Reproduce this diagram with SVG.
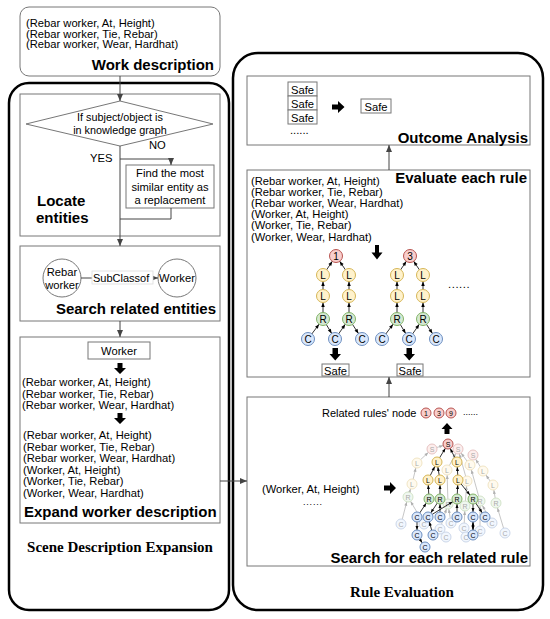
<svg xmlns="http://www.w3.org/2000/svg" width="550" height="619" viewBox="0 0 550 619">
<style>
.t{font-family:"Liberation Sans",Arial,sans-serif;font-size:11.2px;fill:#000}
.c{text-anchor:middle}
.b{font-family:"Liberation Sans",Arial,sans-serif;font-size:15px;font-weight:bold;fill:#000}
.e{text-anchor:end}
.tm{font-family:"Liberation Serif","Times New Roman",serif;font-size:15px;font-weight:bold;fill:#000;text-anchor:middle}
.box{fill:#fff;stroke:#777;stroke-width:1}
.outer{fill:none;stroke:#000;stroke-width:2.5}
.con{fill:none;stroke:#444;stroke-width:1}
.blk{fill:#000}
.te{stroke:#000;stroke-width:0.8;fill:none}
.tf{stroke:#b8b8b8;stroke-width:0.8;fill:none}
.nr{fill:#f8cecc;stroke:#b85450}
.ny{fill:#fff2cc;stroke:#d6b656}
.ng{fill:#d5e8d4;stroke:#82b366}
.nb{fill:#dae8fc;stroke:#6c8ebf}
.fr{fill:#fdeeed;stroke:#e6c3c2}
.fy{fill:#fffaee;stroke:#f1e5c4}
.fg{fill:#f0f7f0;stroke:#d3e4c9}
.fb{fill:#f2f7fe;stroke:#ccd7e9}
.nl{font-family:"Liberation Sans",Arial,sans-serif;font-size:10px;text-anchor:middle;fill:#000}
.sl{font-family:"Liberation Sans",Arial,sans-serif;font-size:7px;text-anchor:middle;fill:#000}
.fl{font-family:"Liberation Sans",Arial,sans-serif;font-size:7px;text-anchor:middle;fill:#aaa}
</style>
<defs>
<marker id="ma" markerUnits="userSpaceOnUse" markerWidth="8" markerHeight="7" refX="7" refY="3" orient="auto" overflow="visible"><path d="M0,0 L7,3 L0,6 Z" fill="#444"/></marker>
<marker id="ta" markerUnits="userSpaceOnUse" markerWidth="5" markerHeight="4" refX="11" refY="1.75" orient="auto" overflow="visible"><path d="M0,0 L4.5,1.75 L0,3.5 Z" fill="#000"/></marker>
<marker id="tb" markerUnits="userSpaceOnUse" markerWidth="5" markerHeight="4" refX="9" refY="1.5" orient="auto" overflow="visible"><path d="M0,0 L4,1.5 L0,3 Z" fill="#000"/></marker>
<marker id="tg" markerUnits="userSpaceOnUse" markerWidth="5" markerHeight="4" refX="9" refY="1.5" orient="auto" overflow="visible"><path d="M0,0 L4,1.5 L0,3 Z" fill="#b0b0b0"/></marker>
</defs>

<g id="panel-scene">
<rect class="outer" x="9" y="83" width="220" height="527" rx="20"/>
<text class="tm" x="120" y="552">Scene Description Expansion</text>
</g>
<g id="panel-rule">
<rect class="outer" x="233" y="53" width="310" height="557" rx="25"/>
<text class="tm" x="402" y="597">Rule Evaluation</text>
</g>

<g id="work-description">
<rect class="box" x="20" y="7" width="200" height="69" rx="9"/>
<text class="t" x="26" y="27">(Rebar worker, At, Height)</text>
<text class="t" x="26" y="37.5">(Rebar worker, Tie, Rebar)</text>
<text class="t" x="26" y="48">(Rebar worker, Wear, Hardhat)</text>
<text class="b e" x="214" y="70">Work description</text>
</g>

<g id="locate-entities">
<rect class="box" x="20" y="94" width="200" height="142"/>
<text class="b" x="37" y="206">Locate</text>
<text class="b" x="36" y="223">entities</text>
</g>
<g id="decision">
<polygon points="120,101 213,124 120,146 26,124" fill="#fff" stroke="#777"/>
<text class="t c" x="120" y="120.5" style="font-size:10.8px">If subject/object is</text>
<text class="t c" x="120" y="134" style="font-size:10.8px">in knowledge graph</text>
</g>
<g id="find-similar">
<rect class="box" x="126" y="165" width="88" height="43"/>
<text class="t c" x="170" y="177">Find the most</text>
<text class="t c" x="170" y="190.5">similar entity as</text>
<text class="t c" x="170" y="204">a replacement</text>
</g>

<g id="search-related">
<rect class="box" x="20" y="246" width="200" height="75"/>
<text class="b e" x="216" y="314">Search related entities</text>
</g>
<g id="node-rebar-worker">
<circle cx="62" cy="278" r="19" fill="#fff" stroke="#777"/>
<text class="t c" x="62" y="275.5">Rebar</text>
<text class="t c" x="62" y="289">worker</text>
</g>
<g id="node-worker">
<circle cx="177" cy="278" r="19" fill="#fff" stroke="#777"/>
<text class="t c" x="177" y="282">Worker</text>
</g>

<g id="expand-worker">
<rect class="box" x="20" y="337" width="200" height="186"/>
<rect class="box" x="88" y="342" width="62" height="17"/>
<text class="t c" x="119" y="355">Worker</text>
<path class="blk" d="M117.5,363 h5 v5 h3.5 l-6,6 l-6,-6 h3.5 z"/>
<text class="t" x="22" y="386">(Rebar worker, At, Height)</text>
<text class="t" x="22" y="397.5">(Rebar worker, Tie, Rebar)</text>
<text class="t" x="22" y="409">(Rebar worker, Wear, Hardhat)</text>
<path class="blk" d="M117.5,413 h5 v5 h3.5 l-6,6 l-6,-6 h3.5 z"/>
<text class="t" x="23" y="439">(Rebar worker, At, Height)</text>
<text class="t" x="23" y="450.5">(Rebar worker, Tie, Rebar)</text>
<text class="t" x="23" y="462">(Rebar worker, Wear, Hardhat)</text>
<text class="t" x="23" y="473.5">(Worker, At, Height)</text>
<text class="t" x="23" y="485">(Worker, Tie, Rebar)</text>
<text class="t" x="23" y="496.5">(Worker, Wear, Hardhat)</text>
<text class="b" x="24" y="517">Expand worker description</text>
</g>

<g id="outcome-analysis">
<rect class="box" x="247" y="76" width="283" height="69"/>
<rect class="box" x="288" y="82" width="29" height="14"/>
<rect class="box" x="288" y="96" width="29" height="14"/>
<rect class="box" x="288" y="110" width="29" height="14"/>
<text class="t c" x="302.5" y="93.5">Safe</text>
<text class="t c" x="302.5" y="107.5">Safe</text>
<text class="t c" x="302.5" y="121.5">Safe</text>
<text class="t" x="290" y="134">......</text>
<path class="blk" d="M332,104.5 h6 v-3.5 l6.5,6 l-6.5,6 v-3.5 h-6 z"/>
<rect class="box" x="361" y="99" width="30" height="14"/>
<text class="t c" x="376" y="110.5">Safe</text>
<text class="b e" x="528" y="142.5">Outcome Analysis</text>
</g>

<g id="evaluate-rule">
<rect class="box" x="247" y="170" width="283" height="207"/>
<text class="b e" x="527" y="183">Evaluate each rule</text>
<text class="t" x="251" y="184.5">(Rebar worker, At, Height)</text>
<text class="t" x="251" y="195.7">(Rebar worker, Tie, Rebar)</text>
<text class="t" x="251" y="206.9">(Rebar worker, Wear, Hardhat)</text>
<text class="t" x="251" y="218.1">(Worker, At, Height)</text>
<text class="t" x="251" y="229.3">(Worker, Tie, Rebar)</text>
<text class="t" x="251" y="240.5">(Worker, Wear, Hardhat)</text>
<path class="blk" d="M375,245 h4 v7.5 h3.5 l-5.5,7 l-5.5,-7 h3.5 z"/>
<text class="t" x="448" y="288" style="letter-spacing:0.6px">......</text>
<path class="blk" d="M332.5,348 h5.5 v6 h3 l-5.75,6.5 l-5.75,-6.5 h3 z"/>
<path class="blk" d="M406.5,348 h5.5 v6 h3 l-5.75,6.5 l-5.75,-6.5 h3 z"/>
<rect class="box" x="322" y="364" width="27" height="12"/>
<text class="t c" x="335.5" y="374.5">Safe</text>
<rect class="box" x="397" y="364" width="26" height="12"/>
<text class="t c" x="410" y="374.5">Safe</text>
</g>

<g id="rule-tree-1">
<g class="te" marker-end="url(#ta)">
<line x1="323" y1="275" x2="336" y2="256"/>
<line x1="349" y1="275" x2="336" y2="256"/>
<line x1="323" y1="296" x2="323" y2="275"/>
<line x1="349" y1="296" x2="349" y2="275"/>
<line x1="323" y1="319" x2="323" y2="296"/>
<line x1="349" y1="319" x2="349" y2="296"/>
<line x1="308" y1="339" x2="323" y2="319"/>
<line x1="323" y1="319" x2="335" y2="339"/>
<line x1="335" y1="339" x2="349" y2="319"/>
<line x1="349" y1="319" x2="362" y2="339"/>
</g>
<circle class="nr" cx="336" cy="256" r="6.5"/><text class="nl" x="336" y="259.5">1</text>
<circle class="ny" cx="323" cy="275" r="6.5"/><text class="nl" x="323" y="278.5">L</text>
<circle class="ny" cx="349" cy="275" r="6.5"/><text class="nl" x="349" y="278.5">L</text>
<circle class="ny" cx="323" cy="296" r="6.5"/><text class="nl" x="323" y="299.5">L</text>
<circle class="ny" cx="349" cy="296" r="6.5"/><text class="nl" x="349" y="299.5">L</text>
<circle class="ng" cx="323" cy="319" r="6.5"/><text class="nl" x="323" y="322.5">R</text>
<circle class="ng" cx="349" cy="319" r="6.5"/><text class="nl" x="349" y="322.5">R</text>
<circle class="nb" cx="308" cy="339" r="6.5"/><text class="nl" x="308" y="342.5">C</text>
<circle class="nb" cx="335" cy="339" r="6.5"/><text class="nl" x="335" y="342.5">C</text>
<circle class="nb" cx="362" cy="339" r="6.5"/><text class="nl" x="362" y="342.5">C</text>
</g>

<g id="rule-tree-3" transform="translate(74,0)">
<g class="te" marker-end="url(#ta)">
<line x1="323" y1="275" x2="336" y2="256"/>
<line x1="349" y1="275" x2="336" y2="256"/>
<line x1="323" y1="296" x2="323" y2="275"/>
<line x1="349" y1="296" x2="349" y2="275"/>
<line x1="323" y1="319" x2="323" y2="296"/>
<line x1="349" y1="319" x2="349" y2="296"/>
<line x1="308" y1="339" x2="323" y2="319"/>
<line x1="323" y1="319" x2="335" y2="339"/>
<line x1="335" y1="339" x2="349" y2="319"/>
<line x1="349" y1="319" x2="362" y2="339"/>
</g>
<circle class="nr" cx="336" cy="256" r="6.5"/><text class="nl" x="336" y="259.5">3</text>
<circle class="ny" cx="323" cy="275" r="6.5"/><text class="nl" x="323" y="278.5">L</text>
<circle class="ny" cx="349" cy="275" r="6.5"/><text class="nl" x="349" y="278.5">L</text>
<circle class="ny" cx="323" cy="296" r="6.5"/><text class="nl" x="323" y="299.5">L</text>
<circle class="ny" cx="349" cy="296" r="6.5"/><text class="nl" x="349" y="299.5">L</text>
<circle class="ng" cx="323" cy="319" r="6.5"/><text class="nl" x="323" y="322.5">R</text>
<circle class="ng" cx="349" cy="319" r="6.5"/><text class="nl" x="349" y="322.5">R</text>
<circle class="nb" cx="308" cy="339" r="6.5"/><text class="nl" x="308" y="342.5">C</text>
<circle class="nb" cx="335" cy="339" r="6.5"/><text class="nl" x="335" y="342.5">C</text>
<circle class="nb" cx="362" cy="339" r="6.5"/><text class="nl" x="362" y="342.5">C</text>
</g>

<g id="search-rule">
<rect class="box" x="247" y="397" width="283" height="169"/>
<text class="t" x="322" y="417" style="font-size:11px">Related rules' node</text>
<circle class="nr" cx="426" cy="413" r="5"/><text class="sl" x="426" y="415.5">1</text>
<circle class="nr" cx="439" cy="413" r="5"/><text class="sl" x="439" y="415.5">3</text>
<circle class="nr" cx="451" cy="413" r="5"/><text class="sl" x="451" y="415.5">9</text>
<text class="t" x="463" y="415" style="font-size:9px">......</text>
<path class="blk" d="M447,423 l5.5,6 h-3 v5 h-5 v-5 h-3 z"/>
<text class="t" x="262" y="493">(Worker, At, Height)</text>
<text class="t" x="303" y="505" style="font-size:9px;letter-spacing:0.8px">......</text>
<path class="blk" d="M384,485.5 h6 v-3.5 l6,6 l-6,6 v-3.5 h-6 z"/>
<text class="b e" x="528" y="563">Search for each related rule</text>
</g>

<g id="knowledge-graph">
<g class="tf" marker-end="url(#tg)">
<line x1="417" y1="463" x2="432" y2="449"/>
<line x1="412" y1="484" x2="417" y2="463"/>
<line x1="408" y1="497" x2="412" y2="484"/>
<line x1="401" y1="524" x2="408" y2="497"/>
<line x1="470" y1="465" x2="458" y2="449"/>
<line x1="483" y1="471" x2="473" y2="455"/>
<line x1="493" y1="485" x2="483" y2="471"/>
<line x1="496" y1="503" x2="493" y2="485"/>
<line x1="505" y1="533" x2="496" y2="503"/>
<line x1="480" y1="501" x2="470" y2="465"/>
<line x1="492" y1="523" x2="480" y2="501"/>
<line x1="447" y1="470" x2="458" y2="449"/>
<line x1="467" y1="481" x2="458" y2="449"/>
<line x1="465" y1="506" x2="467" y2="481"/>
<line x1="464" y1="528" x2="465" y2="506"/>
<line x1="448" y1="504" x2="447" y2="470"/>
<line x1="451" y1="523" x2="448" y2="504"/>
<line x1="440" y1="529" x2="448" y2="504"/>
<line x1="424" y1="524" x2="408" y2="497"/>
<line x1="466" y1="536" x2="464" y2="528"/>
<line x1="446" y1="537" x2="440" y2="529"/>
<line x1="480" y1="531" x2="480" y2="501"/>
<line x1="432" y1="449" x2="448" y2="444"/>
</g>
<g id="faded-nodes">
<circle class="fr" cx="432" cy="449" r="5"/><text class="fl" x="432" y="451.5">S</text>
<circle class="fr" cx="458" cy="449" r="5"/><text class="fl" x="458" y="451.5">S</text>
<circle class="fr" cx="473" cy="455" r="5"/><text class="fl" x="473" y="457.5">S</text>
<circle class="fy" cx="417" cy="463" r="5"/><text class="fl" x="417" y="465.5">L</text>
<circle class="fy" cx="470" cy="465" r="5"/><text class="fl" x="470" y="467.5">L</text>
<circle class="fy" cx="483" cy="471" r="5"/><text class="fl" x="483" y="473.5">L</text>
<circle class="fy" cx="412" cy="484" r="5"/><text class="fl" x="412" y="486.5">L</text>
<circle class="fy" cx="493" cy="485" r="5"/><text class="fl" x="493" y="487.5">L</text>
<circle class="fy" cx="447" cy="470" r="5"/><text class="fl" x="447" y="472.5">L</text>
<circle class="fy" cx="467" cy="481" r="5"/><text class="fl" x="467" y="483.5">L</text>
<circle class="fg" cx="408" cy="497" r="5"/><text class="fl" x="408" y="499.5">R</text>
<circle class="fg" cx="480" cy="501" r="5"/><text class="fl" x="480" y="503.5">R</text>
<circle class="fg" cx="496" cy="503" r="5"/><text class="fl" x="496" y="505.5">R</text>
<circle class="fg" cx="448" cy="504" r="5"/><text class="fl" x="448" y="506.5">R</text>
<circle class="fg" cx="465" cy="506" r="5"/><text class="fl" x="465" y="508.5">R</text>
<circle class="fb" cx="401" cy="524" r="5"/><text class="fl" x="401" y="526.5">C</text>
<circle class="fb" cx="424" cy="524" r="5"/><text class="fl" x="424" y="526.5">C</text>
<circle class="fb" cx="440" cy="529" r="5"/><text class="fl" x="440" y="531.5">C</text>
<circle class="fb" cx="451" cy="523" r="5"/><text class="fl" x="451" y="525.5">C</text>
<circle class="fb" cx="464" cy="528" r="5"/><text class="fl" x="464" y="530.5">C</text>
<circle class="fb" cx="466" cy="537" r="5"/><text class="fl" x="466" y="539.5">C</text>
<circle class="fb" cx="492" cy="523" r="5"/><text class="fl" x="492" y="525.5">C</text>
<circle class="fb" cx="505" cy="533" r="5"/><text class="fl" x="505" y="535.5">C</text>
<circle class="fb" cx="446" cy="537" r="5"/><text class="fl" x="446" y="539.5">C</text>
<circle class="fb" cx="480" cy="531" r="5"/><text class="fl" x="480" y="533.5">C</text>
</g>
<g class="te" marker-end="url(#tb)">
<line x1="437" y1="462" x2="448" y2="444"/>
<line x1="457" y1="462" x2="448" y2="444"/>
<line x1="428" y1="480" x2="437" y2="462"/>
<line x1="440" y1="480" x2="437" y2="462"/>
<line x1="458" y1="480" x2="457" y2="462"/>
<line x1="429" y1="499" x2="428" y2="480"/>
<line x1="440" y1="499" x2="440" y2="480"/>
<line x1="457" y1="499" x2="458" y2="480"/>
<line x1="458" y1="480" x2="473" y2="499"/>
<line x1="417" y1="517" x2="429" y2="499"/>
<line x1="440" y1="499" x2="428" y2="517"/>
<line x1="440" y1="517" x2="440" y2="499"/>
<line x1="428" y1="517" x2="457" y2="499"/>
<line x1="457" y1="517" x2="457" y2="499"/>
<line x1="473" y1="499" x2="473" y2="517"/>
<line x1="473" y1="499" x2="485" y2="517"/>
<line x1="417" y1="517" x2="417" y2="535"/>
<line x1="417" y1="535" x2="425" y2="547"/>
<line x1="433" y1="535" x2="428" y2="517"/>
<line x1="473" y1="535" x2="473" y2="517"/>
<line x1="473" y1="517" x2="473" y2="535"/>
</g>
<g id="bright-nodes">
<circle class="nr" cx="448" cy="444" r="5"/><text class="sl" x="448" y="446.5">S</text>
<circle class="ny" cx="437" cy="462" r="5"/><text class="sl" x="437" y="464.5">L</text>
<circle class="ny" cx="457" cy="462" r="5"/><text class="sl" x="457" y="464.5">L</text>
<circle class="ny" cx="428" cy="480" r="5"/><text class="sl" x="428" y="482.5">L</text>
<circle class="ny" cx="440" cy="480" r="5"/><text class="sl" x="440" y="482.5">L</text>
<circle class="ny" cx="458" cy="480" r="5"/><text class="sl" x="458" y="482.5">L</text>
<circle class="ng" cx="429" cy="499" r="5"/><text class="sl" x="429" y="501.5">R</text>
<circle class="ng" cx="440" cy="499" r="5"/><text class="sl" x="440" y="501.5">R</text>
<circle class="ng" cx="457" cy="499" r="5"/><text class="sl" x="457" y="501.5">R</text>
<circle class="ng" cx="473" cy="499" r="5"/><text class="sl" x="473" y="501.5">R</text>
<circle class="nb" cx="417" cy="517" r="5"/><text class="sl" x="417" y="519.5">C</text>
<circle class="nb" cx="428" cy="517" r="5"/><text class="sl" x="428" y="519.5">C</text>
<circle class="nb" cx="440" cy="517" r="5"/><text class="sl" x="440" y="519.5">C</text>
<circle class="nb" cx="457" cy="517" r="5"/><text class="sl" x="457" y="519.5">C</text>
<circle class="nb" cx="473" cy="517" r="5"/><text class="sl" x="473" y="519.5">C</text>
<circle class="nb" cx="485" cy="517" r="5"/><text class="sl" x="485" y="519.5">C</text>
<circle class="nb" cx="417" cy="535" r="5"/><text class="sl" x="417" y="537.5">C</text>
<circle class="nb" cx="433" cy="535" r="5"/><text class="sl" x="433" y="537.5">C</text>
<circle class="nb" cx="473" cy="535" r="5"/><text class="sl" x="473" y="537.5">C</text>
<circle class="nb" cx="425" cy="547" r="5"/><text class="sl" x="425" y="549.5">C</text>
</g>
</g>

<g id="connectors">
<line class="con" x1="120" y1="76" x2="120" y2="101" marker-end="url(#ma)"/>
<line class="con" x1="120" y1="146" x2="120" y2="246" marker-end="url(#ma)"/>
<polyline class="con" points="120,159 171,159 171,165" marker-end="url(#ma)"/>
<polyline class="con" points="171,208 171,219 120,219"/>
<text class="t" x="149" y="149">NO</text>
<text class="t" x="90" y="162">YES</text>
<line class="con" x1="120" y1="321" x2="120" y2="337" marker-end="url(#ma)"/>
<line class="con" x1="81" y1="278" x2="158" y2="278" marker-end="url(#ma)"/>
<rect x="92" y="271" width="61" height="13" fill="#fff" stroke="#ddd" stroke-width="0.8"/>
<text class="t" x="93" y="282" style="font-size:11px">SubClassof</text>
<line class="con" x1="220" y1="481" x2="247" y2="481" marker-end="url(#ma)"/>
<line class="con" x1="389" y1="397" x2="389" y2="377" marker-end="url(#ma)"/>
<line class="con" x1="389" y1="170" x2="389" y2="145" marker-end="url(#ma)"/>
</g>
</svg>
